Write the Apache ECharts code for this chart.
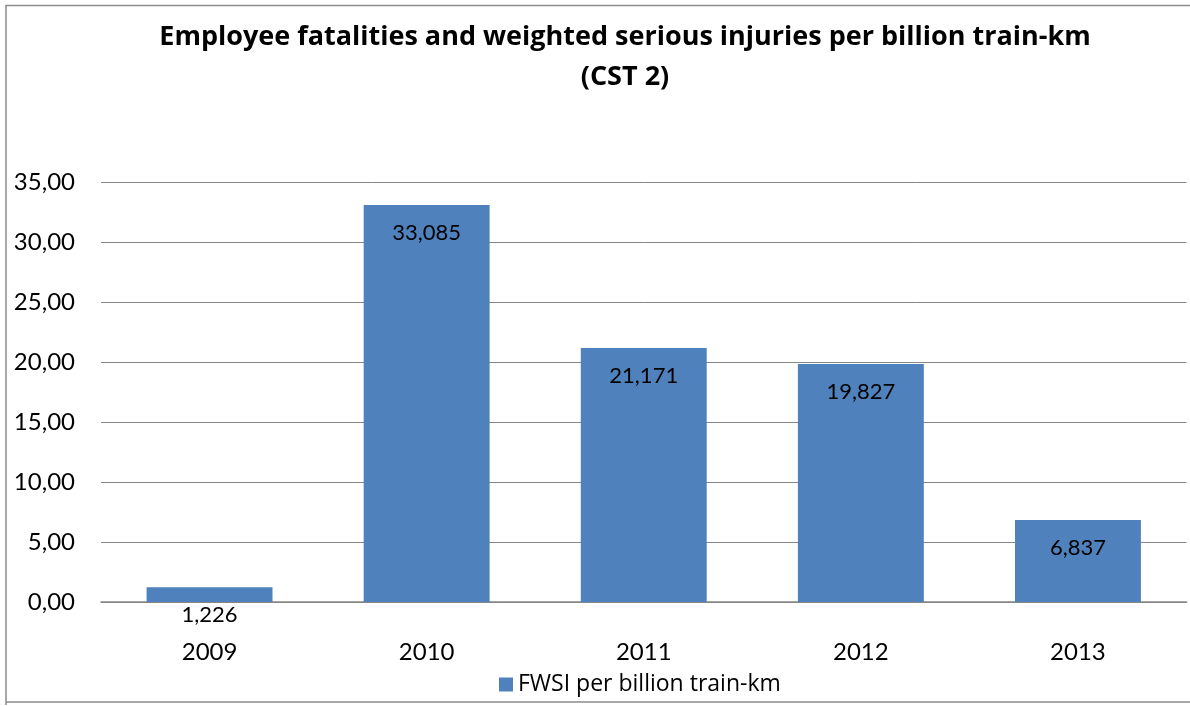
<!DOCTYPE html>
<html>
<head>
<meta charset="utf-8">
<script src="https://cdn.jsdelivr.net/npm/echarts@6/dist/echarts.min.js"></script>
<style>
html,body{margin:0;padding:0;background:#fff;}
#c{width:1190px;height:706px;}
</style>
</head>
<body>
<div id="c"></div>
<script>
const categories = ['2009', '2010', '2011', '2012', '2013'];
const values = [1.226, 33.085, 21.171, 19.827, 6.837];
const seriesName = 'FWSI per billion train-km';
const titleText = 'Employee fatalities and weighted serious injuries per billion train-km\n(CST 2)';

const fmt = (v, d) => v.toFixed(d).replace('.', ',');
const chart = echarts.init(document.getElementById('c'), null, {renderer: 'canvas'});
chart.setOption({
  animation: false,
  backgroundColor: '#fff',
  title: {
    text: titleText,
    left: 625,
    textAlign: 'center',
    top: 17,
    padding: 0,
    textStyle: {fontFamily: 'Open Sans', fontWeight: 'bold', fontSize: 27, lineHeight: 40, color: '#000'}
  },
  graphic: [{
    type: 'polyline',
    shape: {points: [[6, 705], [6, 5.5], [1190, 5.5]]},
    style: {stroke: '#8c8c8c', lineWidth: 1.5, fill: null}
  }, {
    type: 'line',
    shape: {x1: 6, y1: 702, x2: 1190, y2: 702},
    style: {stroke: '#8c8c8c', lineWidth: 1.5}
  }],
  legend: {
    top: 668,
    left: 494,
    itemWidth: 14,
    itemHeight: 14,
    itemGap: 10,
    textStyle: {fontFamily: 'Open Sans', fontSize: 23, color: '#000'},
    data: [{name: seriesName, icon: 'rect'}]
  },
  grid: {left: 101, right: 3.5, top: 182, bottom: 104, containLabel: false},
  xAxis: {
    type: 'category',
    data: categories,
    axisLine: {lineStyle: {color: '#868686', width: 1.5}},
    axisTick: {show: false},
    axisLabel: {margin: 38, fontFamily: 'Lato', fontSize: 24, color: '#000'}
  },
  yAxis: {
    type: 'value',
    min: 0, max: 35, interval: 5,
    axisLine: {show: false},
    axisTick: {show: false},
    splitLine: {lineStyle: {color: '#868686', width: 1}},
    axisLabel: {margin: 26, fontFamily: 'Lato', fontSize: 24, color: '#000', formatter: v => fmt(v, 2)}
  },
  series: [{
    name: seriesName,
    type: 'bar',
    data: values,
    barWidth: '58%',
    itemStyle: {color: '#4F81BD'},
    label: {
      show: true,
      position: 'insideTop',
      distance: 17,
      fontFamily: 'Lato',
      fontSize: 22,
      color: '#000',
      formatter: p => fmt(p.value, 3)
    }
  }]
});
</script>
</body>
</html>
